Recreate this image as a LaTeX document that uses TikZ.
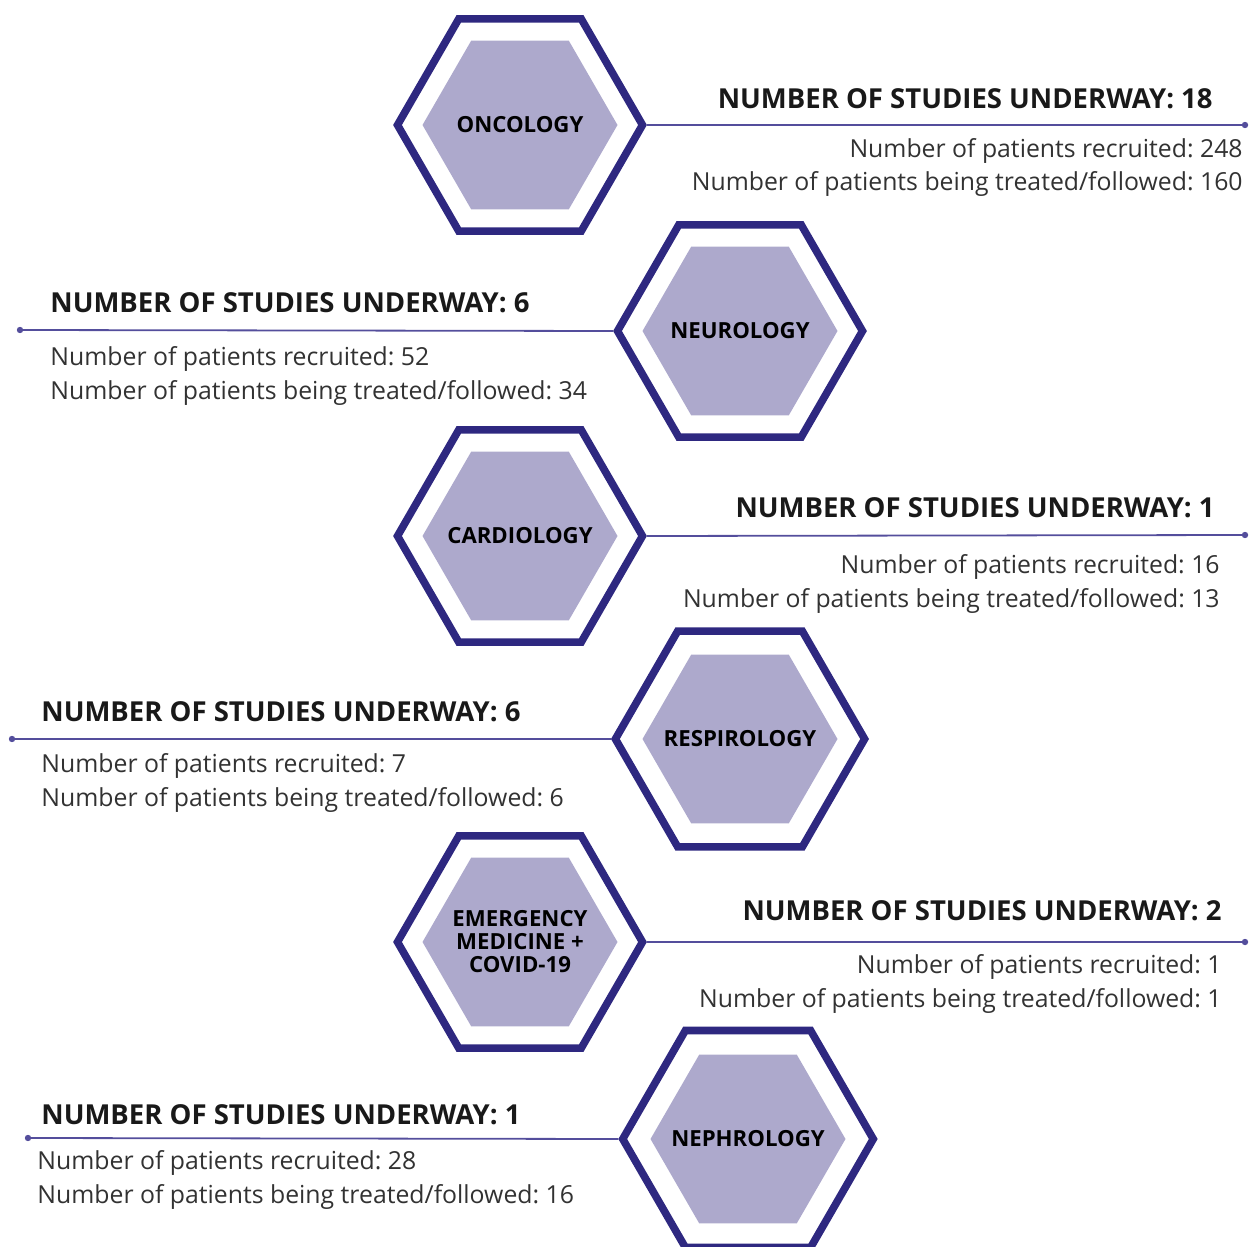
\documentclass[tikz,border=0pt]{standalone}
\usepackage{fontspec}
\setmainfont{Open Sans}
\usetikzlibrary{shapes.geometric}
\frenchspacing

\definecolor{hexline}{RGB}{46,40,128}
\definecolor{hexfill}{RGB}{173,169,204}
\definecolor{connline}{RGB}{84,78,156}
\definecolor{txtgrey}{RGB}{50,50,50}

\begin{document}
\begin{tikzpicture}[x=0.5pt, y=-0.5pt]
\tikzset{
  hexin/.style ={regular polygon, regular polygon sides=6, fill=hexfill, minimum size=97.5pt, inner sep=0pt},
  hexout/.style={regular polygon, regular polygon sides=6, draw=hexline, line width=3.8pt, minimum size=122.5pt, inner sep=0pt, align=center, font=\bfseries\fontsize{11.1}{11.5}\selectfont},
  conn/.style  ={draw=connline, line width=0.9pt},
  dot/.style   ={fill=connline},
  hdr/.style   ={inner sep=0pt, font=\bfseries\fontsize{13.75}{15}\selectfont, text=black!90},
  txt/.style   ={inner sep=0pt, font=\fontsize{12.4}{14}\selectfont, text=txtgrey}
}
\useasboundingbox (0,0) rectangle (1249,1247);

% oncology
\node[hexin] (oncin) at (520,125) {};
\node[hexout] (onc) at (oncin) {ONCOLOGY};
\coordinate (oncE) at (1245,125);
\draw[conn] (onc.east) -- (oncE);
\fill[dot] (oncE) circle (1.6pt);
\node[hdr, anchor=base east] (oncH) at (1213,109) {NUMBER OF STUDIES UNDERWAY: 18};
\node[txt, anchor=base east] (oncA) at (1243,158) {Number of patients recruited: 248};
\node[txt, anchor=base east] (oncB) at (1243,191) {Number of patients being treated/followed: 160};

% neurology
\node[hexin] (neuin) at (740,331) {};
\node[hexout] (neu) at (neuin) {NEUROLOGY};
\coordinate (neuE) at (20,330);
\draw[conn] (neu.west) -- (neuE);
\fill[dot] (neuE) circle (1.6pt);
\node[hdr, anchor=base west] (neuH) at (50,313) {NUMBER OF STUDIES UNDERWAY: 6};
\node[txt, anchor=base west] (neuA) at (50,365) {Number of patients recruited: 52};
\node[txt, anchor=base west] (neuB) at (50,399) {Number of patients being treated/followed: 34};

% cardiology
\node[hexin] (carin) at (520,536) {};
\node[hexout] (car) at (carin) {CARDIOLOGY};
\coordinate (carE) at (1245,535);
\draw[conn] (car.east) -- (carE);
\fill[dot] (carE) circle (1.6pt);
\node[hdr, anchor=base east] (carH) at (1215,517) {NUMBER OF STUDIES UNDERWAY: 1};
\node[txt, anchor=base east] (carA) at (1220,573) {Number of patients recruited: 16};
\node[txt, anchor=base east] (carB) at (1220,607) {Number of patients being treated/followed: 13};

% respirology
\node[hexin] (resin) at (740,739) {};
\node[hexout] (res) at (resin) {RESPIROLOGY};
\coordinate (resE) at (12,739);
\draw[conn] (res.west) -- (resE);
\fill[dot] (resE) circle (1.6pt);
\node[hdr, anchor=base west] (resH) at (41,721) {NUMBER OF STUDIES UNDERWAY: 6};
\node[txt, anchor=base west] (resA) at (41,772) {Number of patients recruited: 7};
\node[txt, anchor=base west] (resB) at (41,806) {Number of patients being treated/followed: 6};

% emergency medicine
\node[hexin] (emein) at (520,942) {};
\node[hexout] (eme) at (emein) {EMERGENCY\\MEDICINE +\\COVID-19};
\coordinate (emeE) at (1245,942);
\draw[conn] (eme.east) -- (emeE);
\fill[dot] (emeE) circle (1.6pt);
\node[hdr, anchor=base east] (emeH) at (1222,920) {NUMBER OF STUDIES UNDERWAY: 2};
\node[txt, anchor=base east] (emeA) at (1222,973) {Number of patients recruited: 1};
\node[txt, anchor=base east] (emeB) at (1222,1007) {Number of patients being treated/followed: 1};

% nephrology
\node[hexin] (nepin) at (748,1139) {};
\node[hexout] (nep) at (nepin) {NEPHROLOGY};
\coordinate (nepE) at (28,1138);
\draw[conn] (nep.west) -- (nepE);
\fill[dot] (nepE) circle (1.6pt);
\node[hdr, anchor=base west] (nepH) at (41,1124) {NUMBER OF STUDIES UNDERWAY: 1};
\node[txt, anchor=base west] (nepA) at (37,1169) {Number of patients recruited: 28};
\node[txt, anchor=base west] (nepB) at (37,1203) {Number of patients being treated/followed: 16};

\end{tikzpicture}
\end{document}
